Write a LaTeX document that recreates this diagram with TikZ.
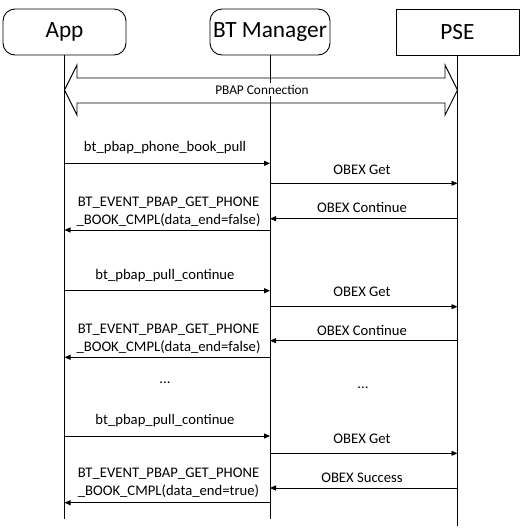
\documentclass[tikz,border=0pt]{standalone}
\usepackage{fontspec}
\setmainfont{Carlito}
\usetikzlibrary{arrows.meta}
\begin{document}
\begin{tikzpicture}[x=1pt,y=-1pt,line width=0.9pt,
  actor/.style={draw, minimum height=46pt, inner sep=0pt, font=\fontsize{23.3}{28}\selectfont},
  msg/.style={-{Triangle[length=6pt,width=5pt]}},
  lbl/.style={anchor=base, inner sep=0pt, font=\fontsize{14.67}{17.6}\selectfont},
  conn/.style={fill=white, inner sep=1.5pt, font=\fontsize{13.33}{16}\selectfont}]
\path[use as bounding box] (0,0) rectangle (526,531);
% actors
\node[actor, rounded corners=12pt, minimum width=123pt] (app) at (64.5,32) {App};
\node[actor, rounded corners=12pt, minimum width=120pt] (bt) at (270,32) {BT Manager};
\node[actor, minimum width=123pt] (pse) at (457.5,32) {PSE};
% lifelines
\draw (app.south) -- (app.south |- 0,519);
\draw (bt.south) -- (bt.south |- 0,519);
\draw (pse.south) -- (pse.south |- 0,526);
% PBAP connection double arrow
\draw[fill=none] (app.south |- 0,90) -- (77,65) -- (77,78) -- (445,78) -- (445,65)
  -- (pse.south |- 0,90) -- (445,115) -- (445,103) -- (77,103) -- (77,115) -- cycle;
\node[conn] (pbap) at (262,89.5) {PBAP Connection};
% block 1
\draw[msg] (app.south |- 0,163.3) -- (bt.south |- 0,163.3);
\node[lbl] (l1) at (165,151) {bt\_pbap\_phone\_book\_pull};
\draw[msg] (bt.south |- 0,183.3) -- (pse.south |- 0,183.3);
\node[lbl] (l2) at (362,174.3) {OBEX Get};
\draw[msg] (pse.south |- 0,218.7) -- (bt.south |- 0,218.7);
\node[lbl] (l3) at (362,212.3) {OBEX Continue};
\draw[msg] (bt.south |- 0,230) -- (app.south |- 0,230);
\node[lbl] (l4a) at (168.5,206) {BT\_EVENT\_PBAP\_GET\_PHONE};
\node[lbl] (l4b) at (168.5,224.3) {\_BOOK\_CMPL(data\_end=false)};
% block 2
\draw[msg] (app.south |- 0,290.7) -- (bt.south |- 0,290.7);
\node[lbl] (m1) at (165,279.3) {bt\_pbap\_pull\_continue};
\draw[msg] (bt.south |- 0,306.7) -- (pse.south |- 0,306.7);
\node[lbl] (m2) at (362,296.7) {OBEX Get};
\draw[msg] (pse.south |- 0,340.7) -- (bt.south |- 0,340.7);
\node[lbl] (m3) at (362,335) {OBEX Continue};
\draw[msg] (bt.south |- 0,357.3) -- (app.south |- 0,357.3);
\node[lbl] (m4a) at (168.5,333.3) {BT\_EVENT\_PBAP\_GET\_PHONE};
\node[lbl] (m4b) at (168.5,351.7) {\_BOOK\_CMPL(data\_end=false)};
% dots
\node[lbl] (d1) at (165,383.3) {...};
\node[lbl] (d2) at (363,388.3) {...};
% block 3
\draw[msg] (app.south |- 0,436) -- (bt.south |- 0,436);
\node[lbl] (n1) at (165,424.3) {bt\_pbap\_pull\_continue};
\draw[msg] (bt.south |- 0,453.3) -- (pse.south |- 0,453.3);
\node[lbl] (n2) at (362,443.7) {OBEX Get};
\draw[msg] (pse.south |- 0,488) -- (bt.south |- 0,488);
\node[lbl] (n3) at (362,482) {OBEX Success};
\draw[msg] (bt.south |- 0,502.7) -- (app.south |- 0,502.7);
\node[lbl] (n4a) at (168.5,477.3) {BT\_EVENT\_PBAP\_GET\_PHONE};
\node[lbl] (n4b) at (168.5,495) {\_BOOK\_CMPL(data\_end=true)};
\end{tikzpicture}
\end{document}
